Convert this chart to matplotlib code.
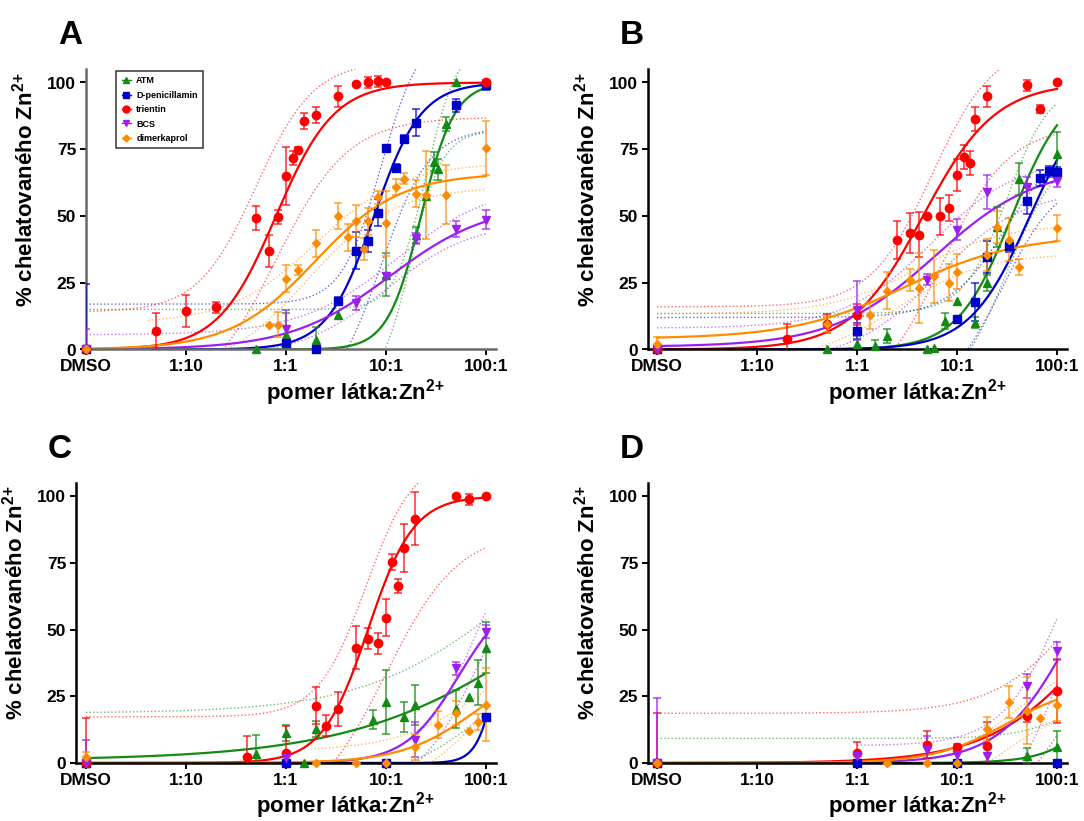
import numpy as np
import matplotlib
matplotlib.use('Agg')
import matplotlib.pyplot as plt
from matplotlib.lines import Line2D
from matplotlib.ticker import NullLocator

plt.rcParams['font.family'] = ['Liberation Sans', 'DejaVu Sans']
plt.rcParams['font.weight'] = 'bold'
plt.rcParams['mathtext.fontset'] = 'custom'
plt.rcParams['mathtext.rm'] = 'Liberation Sans:bold'
plt.rcParams['mathtext.bf'] = 'Liberation Sans:bold'
plt.rcParams['mathtext.default'] = 'rm'

DMSO = 0.01  # DMSO control drawn at the 1:100 position
tick_ratios = [0.01, 0.1, 1, 10, 100]
tick_labels = ['DMSO', '1:10', '1:1', '10:1', '100:1']

names = ['ATM', 'D-penicillamin', 'trientin', 'BCS', 'dimerkaprol']
colors = ['#138a13', '#0000cc', '#ff0000', '#9b1ff0', '#ff8c00']
markers = ['^', 's', 'o', 'v', 'D']
msizes = [6, 5.5, 6, 6, 4.5]

# ---- panel A : (ratio, % chelated, error) ----
A_atm = ([DMSO, 0.5, 1, 2, 3.33, 10, 20, 25, 30, 33.3, 40, 50, 100],
         [0, 0, 5.5, 3.6, 12.8, 28, 43, 57.5, 70.3, 67.5, 84.5, 100, 100],
         [0, 0, 8, 5, 0, 8, 3, 0, 3.5, 4, 2.5, 0, 0])
A_dpen = ([DMSO, 1, 2, 3.33, 5, 6.67, 8.3, 10, 12.5, 15, 20, 50, 100],
          [0, 2.5, 0, 18.1, 37, 40.7, 51.3, 75.5, 68, 78.9, 85, 91.5, 99.1],
          [24.5, 0, 0, 1.5, 7, 4, 5, 0, 1.5, 1.5, 5, 2.5, 2])
A_trien = ([DMSO, 0.05, 0.1, 0.2, 0.5, 0.67, 0.84, 1, 1.17, 1.33, 1.5, 2, 3.33, 5, 6.67, 8.3, 10, 100],
           [0, 6.8, 14.3, 15.8, 49.3, 36.8, 49.6, 65, 71.7, 74.8, 85.5, 87.7, 94.8, 99.6, 100.1, 100.4, 100, 100],
           [0, 7, 6, 2, 4.4, 6, 2.5, 11, 2.5, 1, 3, 3, 4, 0, 2, 2, 0, 0])
A_bcs = ([DMSO, 1, 5, 10, 20, 50, 100],
         [0, 7.8, 17.4, 27.6, 41.6, 45.3, 48.6],
         [7.5, 7, 2.5, 1, 2, 3, 3.5])
A_dimer = ([DMSO, 0.67, 0.84, 1, 1.33, 2, 3.33, 4.2, 5, 6, 6.67, 8.3, 10, 12.5, 15, 20, 25, 40, 100],
           [0, 9.3, 9.3, 26.5, 29.8, 39.8, 50, 42, 48, 37.6, 48, 57, 47.2, 61, 64, 58.4, 58, 58, 75.5],
           [0, 0, 4.7, 5, 2, 5, 5, 5, 6, 4, 5, 2.5, 12, 3, 2, 5, 16.5, 11, 10])

# ---- panel B ----
B_atm = ([DMSO, 0.5, 1, 1.5, 2, 5, 5.9, 7.5, 10, 15, 20, 25, 42, 100],
         [0, 0, 1.9, 1.2, 5, 0, 0.6, 10.8, 18.1, 10, 24.9, 45.8, 64, 73.3],
         [0, 0, 3, 2.5, 2.5, 0, 0, 3, 0, 2, 3, 7.5, 6, 8])
B_dpen = ([DMSO, 1, 10, 15, 20, 33, 50, 67, 83, 100],
          [0, 7.1, 11.6, 17.8, 34.7, 38.6, 55.7, 64.2, 66.7, 66.3],
          [0, 3, 0, 7, 6, 2, 5, 3, 2, 2])
B_trien = ([DMSO, 0.2, 0.5, 1, 2.5, 3.4, 4.2, 5, 6.8, 8.3, 10, 11.7, 13.5, 15, 20, 50, 67, 100],
           [0, 4, 9.7, 13, 41, 43.6, 43, 49.9, 49.9, 53, 65.2, 72, 69.8, 86.4, 94.8, 98.9, 90, 100],
           [0, 5.5, 3.5, 4, 7, 7.5, 8.5, 0, 7, 5, 6, 4.5, 4.5, 4.5, 4, 2, 1.5, 0])
B_bcs = ([DMSO, 1, 5, 10, 20, 50, 100],
         [0, 14.7, 26.2, 44.9, 59, 60.7, 63],
         [0, 11, 2, 4, 6.5, 4, 2])
B_dimer = ([DMSO, 0.5, 1.35, 2, 3.4, 4.2, 5.9, 8.3, 10, 20, 25, 33, 42, 100],
           [2, 9.4, 12.8, 22, 26, 23, 27.4, 25, 29.2, 35.5, 45.8, 41.1, 30.8, 45.5],
           [2.5, 3, 5, 7, 4, 13, 10, 7, 6.5, 6, 6, 8, 3, 5])

# ---- panel C ----
C_atm = ([DMSO, 0.5, 1, 1.5, 2, 7.4, 10, 15, 19.5, 50, 67, 83, 100],
         [0, 3.5, 11.2, 0, 12.7, 16.2, 22.8, 17.2, 21.8, 20.2, 24.7, 30.1, 43.2],
         [0, 7, 3, 0, 3, 3.5, 12, 5.5, 7.5, 7, 0, 8.5, 9.5])
C_dpen = ([DMSO, 1, 10, 100],
          [0, 0, 0, 17.4],
          [0, 0, 0, 0])
C_trien = ([DMSO, 0.41, 1, 2, 2.5, 3.33, 5, 6.67, 8.3, 10, 11.5, 13.2, 15, 19.5, 50, 67, 100],
           [0, 2.1, 3.7, 21.5, 14, 20.2, 43.2, 46.6, 44.8, 54.4, 75.3, 66.3, 80.6, 91.5, 100, 98.8, 100],
           [17, 8, 10, 7, 4, 6.5, 8, 4, 4, 7, 3, 2.5, 9, 10, 0, 2, 0])
C_bcs = ([DMSO, 1, 19.5, 50, 100],
         [0, 1.9, 8.7, 35.5, 49.2],
         [8.7, 0, 6.5, 2.5, 2.5])
C_dimer = ([DMSO, 2, 5, 10, 19.5, 33, 50, 67, 83, 100],
           [2.1, 0, 0, 0, 6, 14.3, 18.7, 12.1, 15.3, 21.8],
           [2, 0, 0, 0, 5, 5, 4.5, 0, 3, 13.7])

# ---- panel D ----
D_atm = ([DMSO, 50, 100],
         [0, 2.5, 5.9],
         [0, 3, 6])
D_dpen = ([DMSO, 1, 10, 100],
          [0, 0, 0, 0],
          [0, 0, 0, 0])
D_trien = ([DMSO, 1, 5, 10, 20, 50, 100],
           [0, 3.7, 6.9, 6, 6.2, 17.5, 27],
           [18.7, 4.2, 5, 1, 9, 2, 12])
D_bcs = ([DMSO, 1, 5, 10, 20, 50, 100],
         [0, 2.5, 5, 3.1, 2.5, 28.9, 42],
         [24.2, 0, 5, 0, 0, 4.5, 3.5])
D_dimer = ([DMSO, 2, 5, 10, 20, 33, 50, 67, 100],
           [0, 0, 0, 0, 12.7, 22.8, 19.6, 16.8, 21.8],
           [0, 0, 0, 0, 4.5, 6, 12.5, 0, 6])

# fitted 4PL curves: (bottom, top, logEC50, hill), order as in names
A_fit = [(0, 100, 1.35, 2.6), (0, 100, 0.88, 1.85), (0, 100, -0.1, 1.5), (0, 55, 1.04, 0.87), (0, 66, 0.29, 1.03)]
B_fit = [(0, 100, 1.55, 1.6), (0, 100, 1.73, 1.44), (0, 100, 0.66, 1.2), (1, 69, 0.78, 0.85), (4, 43, 0.485, 0.77)]
C_fit = [(1, 100, 2.7, 0.44), (0, 100, 2.17, 4.1), (0, 100, 0.82, 1.9), (0, 65, 1.725, 1.63), (0, 40, 1.92, 1.15)]
D_fit = [(0, 100, 2.77, 1.56), None, (0, 100, 2.5, 0.8), (0, 100, 2.175, 1.2), (0, 30, 1.51, 1.18)]

# 95% confidence bands: upper, lower (same 4PL form) and log start
A_hi = [(15, 115, 1.4, 2.8), (17, 120, 0.95, 2.2), (14, 108, -0.3, 1.5), (5.5, 62, 1.1, 0.9), (9.7, 70, 0.3, 1.0)]
A_lo = [(-15, 82, 1.25, 2.8), (-20, 83, 0.95, 1.8), (-20, 87, -0.1, 1.2), (-3, 48, 1.0, 1.0), (-10, 61, 0.2, 1.0)]
A_from = [-2, -2, -2, -2, -1.38]
B_hi = [(13.5, 100, 1.5, 2.0), (12, 80, 1.5, 1.5), (16, 115, 0.75, 1.4), (8, 72, 0.75, 1.0), (13.3, 47, 0.6, 1.0)]
B_lo = [(-20, 78, 1.5, 1.6), (-20, 66, 1.45, 1.5), (-20, 84, 0.85, 1.3), (-5, 60, 0.8, 1.0), (-5, 36, 0.4, 1.0)]
B_from = [-2, -2, -2, -2, -2]
C_hi = [(18.7, 100, 2.2, 0.6), None, (17.3, 115, 0.8, 1.8), (0, 100, 1.92, 1.5), (4.5, 50, 2.0, 1.0)]
C_lo = [(-10, 60, 2.2, 0.8), None, (-20, 87, 1.0, 1.2), (-10, 80, 1.9, 1.5), (-10, 40, 1.9, 1.3)]
C_from = [-2, -2, -2, 0.3, 0.25]
D_hi = [(9.2, 30, 2.2, 1.5), None, (18.6, 100, 2.3, 1.0), (6.5, 120, 2.1, 1.4), (-5, 45, 1.6, 1.0)]
D_lo = [None, None, (-20, 80, 2.3, 1.2), (-20, 100, 2.1, 1.5), (-10, 20, 1.5, 1.5)]
D_from = [-2, -2, -2, 0, 0]


def four_pl(logx, p):
    b, t, c, h = p
    return b + (t - b) / (1 + 10 ** ((c - logx) * h))


def draw_panel(ax, series, fits, his, los, starts, xmin):
    for i in range(5):
        col = colors[i]
        # confidence bands
        for band in (his[i], los[i]):
            if band is None:
                continue
            lx = np.linspace(starts[i], 2, 300)
            ax.plot(10 ** lx, four_pl(lx, band), color=col, lw=1.0, alpha=0.6,
                    ls=(0, (1, 1.6)), zorder=1)
        # fitted curve
        if fits[i] is not None:
            lx = np.linspace(-2, 2, 400)
            ax.plot(10 ** lx, four_pl(lx, fits[i]), color=col, lw=1.6, zorder=2)
    for i in range(5):
        col = colors[i]
        x, y, e = series[i]
        x = np.array(x); y = np.array(y); e = np.array(e)
        m = e > 0
        ax.errorbar(x[m], y[m], yerr=e[m], fmt='none', ecolor=col, alpha=0.7,
                    elinewidth=1.3, capsize=3, capthick=1.3, zorder=3)
        ax.plot(x, y, ls='none', marker=markers[i], ms=msizes[i], color=col,
                mec=col, clip_on=False, zorder=4)

    ax.set_xscale('log')
    ax.set_xlim(10 ** xmin, 10 ** 2.1)
    ax.set_ylim(0, 105)
    ax.set_xticks(tick_ratios)
    ax.set_xticklabels(tick_labels)
    ax.xaxis.set_minor_locator(NullLocator())
    ax.set_yticks([0, 25, 50, 75, 100])
    ax.tick_params(axis='both', labelsize=12.5, width=1.4, length=4)
    ax.tick_params(axis='y', pad=3)
    ax.tick_params(axis='x', pad=3)
    for s in ['top', 'right']:
        ax.spines[s].set_visible(False)
    for s in ['left', 'bottom']:
        ax.spines[s].set_linewidth(1.8)


W, H = 1084, 821
fig = plt.figure(figsize=(W / 100, H / 100), dpi=100)

ylab = r'% chelatovaného Zn$^{2\!+}$'
xlab = r'pomer látka:Zn$^{2\!+}$'

panels = [
    ('A', [A_atm, A_dpen, A_trien, A_bcs, A_dimer], A_fit, A_hi, A_lo, A_from, 86, 349.5, -2.0),
    ('B', [B_atm, B_dpen, B_trien, B_bcs, B_dimer], B_fit, B_hi, B_lo, B_from, 648, 349.5, -2.09),
    ('C', [C_atm, C_dpen, C_trien, C_bcs, C_dimer], C_fit, C_hi, C_lo, C_from, 76, 763, -2.1),
    ('D', [D_atm, D_dpen, D_trien, D_bcs, D_dimer], D_fit, D_hi, D_lo, D_from, 648, 763, -2.09),
]

axes = {}
for letter, series, fits, his, los, starts, left_px, zero_px, xmin in panels:
    width_px = (2.1 - xmin) * 100
    height_px = 105 * 2.67
    ax = fig.add_axes([left_px / W, (H - zero_px) / H, width_px / W, height_px / H])
    draw_panel(ax, series, fits, his, los, starts, xmin)
    axes[letter] = ax
    # panel letter
    fig.text((left_px - 28) / W, 1 - (zero_px - 305) / H, letter, fontsize=24,
             fontweight='bold', ha='left', va='baseline')
    # axis titles
    fig.text((left_px - 61) / W, 1 - (zero_px - 160) / H, ylab, fontsize=16,
             rotation=90, ha='center', va='center')
    fig.text((left_px + 270) / W, 1 - (zero_px + 43) / H, xlab, fontsize=16,
             ha='center', va='center')

for s in ['left', 'bottom']:
    axes['A'].spines[s].set_color('#6a6a6a')

handles = [Line2D([], [], color=colors[i], marker=markers[i], ms=msizes[i] - 1, lw=1.0)
           for i in range(5)]
leg = axes['A'].legend(handles, names, loc='upper left', bbox_to_anchor=(0.063, 1.01),
                       fontsize=6.5, frameon=True, fancybox=False, edgecolor='black',
                       handlelength=1.0, labelspacing=0.6, borderpad=0.6,
                       handletextpad=0.6)
leg.get_frame().set_linewidth(1.1)

fig.savefig('out.png', dpi=100)
